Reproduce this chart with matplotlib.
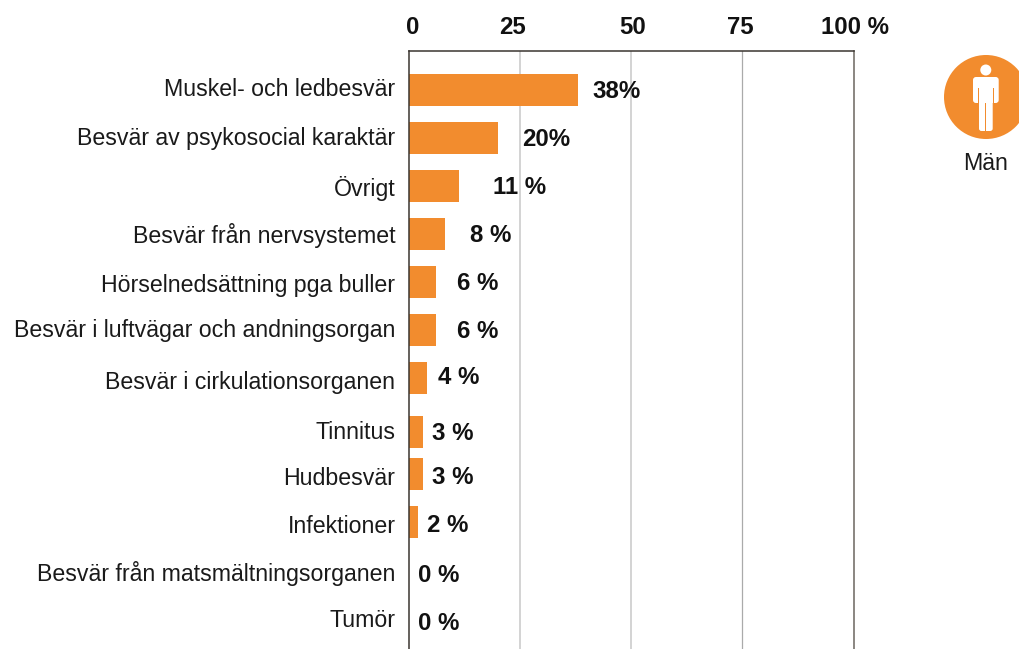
import matplotlib.pyplot as plt
from matplotlib.patches import Circle, FancyBboxPatch, Rectangle

plt.rcParams['font.family'] = ['Liberation Sans', 'DejaVu Sans']

categories = ['Muskel- och ledbesvär', 'Besvär av psykosocial karaktär', 'Övrigt',
              'Besvär från nervsystemet', 'Hörselnedsättning pga buller',
              'Besvär i luftvägar och andningsorgan', 'Besvär i cirkulationsorganen',
              'Tinnitus', 'Hudbesvär', 'Infektioner',
              'Besvär från matsmältningsorganen', 'Tumör']
values = [38, 20, 11.2, 8, 6, 6, 4, 3.1, 3.1, 2, 0, 0]
value_labels = ['38%', '20%', '11 %', '8 %', '6 %', '6 %', '4 %', '3 %', '3 %', '2 %', '0 %', '0 %']
ticks = [0, 25, 50, 75, 100]
tick_labels = ['0', '25', '50', '75', '100 %']

# rows are not quite evenly spaced in the original, so positions in px
bar_y = [90, 138, 186, 234, 282, 330, 378, 432, 474, 522, 570, 618]
cat_y = [89.5, 138.5, 188.5, 235.5, 285.5, 330.5, 382.5, 432.5, 478.5, 526.5, 573.5, 620.5]
val_y = [92, 140, 188, 236, 284, 332, 378, 434, 477, 525, 576, 623]
val_x = [592, 522, 493, 470, 457, 457, 438, 432, 432, 427, 418, 418]
tick_x = [413, 513, 633, 740, 855]

orange = '#f28c2e'
W, H = 1019, 649

fig = plt.figure(figsize=(W / 100, H / 100), dpi=100)
ax = fig.add_axes([409 / W, 0, 444.5 / W, (H - 50.5) / H])
ax.set_xlim(0, 100)
ax.set_ylim(649, 50.5)

ax.barh(bar_y, values, height=32, color=orange, zorder=2)
ax.set_xticks(ticks[1:-1])
ax.set_xticklabels([])
ax.set_yticks([])
ax.tick_params(length=0)
ax.grid(axis='x', color='#cccccc', linewidth=1.2, zorder=1)
ax.get_xgridlines()[-1].set_color('#aaaaaa')
ax.get_xgridlines()[-1].set_linewidth(0.9)
ax.set_axisbelow(True)
for s in ['top', 'left', 'right']:
    ax.spines[s].set_color('#3a3530')
    ax.spines[s].set_linewidth(1.1)
ax.spines['right'].set_color('#6b665f')
ax.spines['bottom'].set_visible(False)

# overlay in image pixels for texts and icon
ov = fig.add_axes([0, 0, 1, 1], facecolor='none')
ov.set_xlim(0, W)
ov.set_ylim(H, 0)
ov.axis('off')

for name, y in zip(categories, cat_y):
    ov.text(395.5, y, name, ha='right', va='center', fontsize=16.65, color='#1a1a1a')
for lab, x, y in zip(value_labels, val_x, val_y):
    ov.text(x, y, lab, ha='left', va='center', fontsize=17.3, fontweight='bold', color='#111111')
for lab, x in zip(tick_labels, tick_x):
    ov.text(x, 28, lab, ha='center', va='center', fontsize=17.3, fontweight='bold', color='#111111')

# man icon
ov.add_patch(Circle((986, 97), 42, color=orange, lw=0))
ov.add_patch(Circle((985.8, 70), 5.5, color='white', lw=0))
ov.add_patch(FancyBboxPatch((973, 77), 25.7, 26, boxstyle='round,pad=0,rounding_size=3', fc='white', ec='none'))
ov.add_patch(FancyBboxPatch((979, 95), 13.7, 36, boxstyle='round,pad=0,rounding_size=2.5', fc='white', ec='none'))
ov.add_patch(Rectangle((978, 88), 1, 18, fc=orange, ec='none'))
ov.add_patch(Rectangle((992.7, 88), 1, 18, fc=orange, ec='none'))
ov.add_patch(Rectangle((973, 103), 6, 3, fc=orange, ec='none'))
ov.add_patch(Rectangle((993, 103), 6, 3, fc=orange, ec='none'))
ov.add_patch(Rectangle((985.5, 103), 0.8, 28, fc=orange, ec='none'))
ov.text(986, 163, 'Män', ha='center', va='center', fontsize=16.65, color='#1a1a1a')

fig.savefig('out.png', dpi=100)
